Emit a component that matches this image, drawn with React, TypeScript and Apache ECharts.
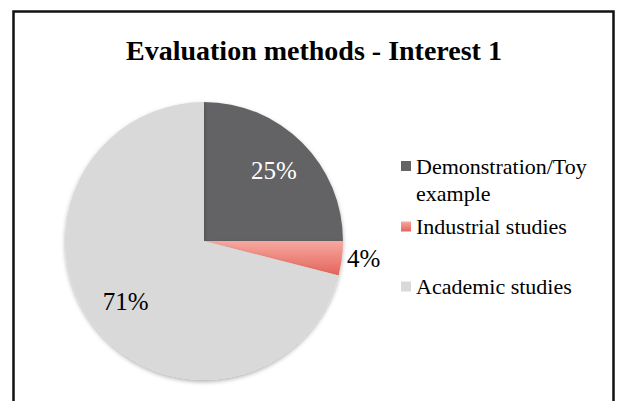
import React, { useEffect, useRef } from "react";
import * as echarts from "echarts";

const titleText = "Evaluation methods - Interest 1";
const categories = ["Demonstration/Toy example", "Industrial studies", "Academic studies"];
const legendLines = [["Demonstration/Toy", "example"], ["Industrial studies"], ["Academic studies"]];
const values = [25, 4, 71];
const labelColors = ["#ffffff", "#000000", "#000000"];

const SERIF = "Liberation Serif";

const sliceColors: any[] = [
  "#636466",
  new echarts.graphic.LinearGradient(0, 0, 0, 1, [
    { offset: 0, color: "#f6a8a0" },
    { offset: 1, color: "#e4645a" },
  ]),
  "#d9d9d9",
];

export default function App() {
  const ref = useRef<HTMLDivElement>(null);
  useEffect(() => {
    if (!ref.current) return;
    const chart = echarts.init(ref.current, null, { renderer: "svg" });
    const center = [204, 241];
    const mainData = categories.map((name, i) => ({
      name,
      value: values[i],
      itemStyle: { color: sliceColors[i] },
      label: {
        show: i === 1,
        position: "outside",
        distance: 4,
        formatter: "{d}%",
        color: "#000",
        fontSize: 25,
        fontFamily: SERIF,
      },
      labelLine: { show: false, length: 0, length2: 0 },
    }));
    const ghostData = categories.map((name, i) => ({
      name,
      value: values[i],
      itemStyle: { color: "rgba(0,0,0,0)" },
      label: {
        show: i !== 1,
        position: "inside",
        formatter: "{d}%",
        color: labelColors[i],
        fontSize: 25,
        fontFamily: SERIF,
      },
    }));
    const legendTops = [125.5, 213, 273];
    const legends = categories.map((name, i) => ({
      show: true,
      orient: "vertical",
      left: 401,
      top: legendTops[i],
      itemWidth: 10,
      itemHeight: 10,
      padding: 0,
      selectedMode: false,
      data: [{ name, icon: "rect", itemStyle: { color: sliceColors[i] } }],
      formatter: () =>
        legendLines[i].length > 1
          ? "{z| }\n" + legendLines[i].map((l) => "{a|" + l + "}").join("\n")
          : legendLines[i][0],
      textStyle: {
        fontSize: 22,
        fontFamily: SERIF,
        color: "#000",
        lineHeight: 27,
        rich: {
          a: { fontSize: 22, fontFamily: SERIF, color: "#000", lineHeight: 27 },
          z: { fontSize: 10, fontFamily: SERIF, lineHeight: 27 },
        },
      },
    }));
    chart.setOption({
      animation: false,
      textStyle: { fontFamily: SERIF },
      title: {
        text: titleText,
        left: 126,
        top: 36,
        padding: 0,
        textStyle: {
          fontSize: 28,
          fontWeight: "bold",
          fontFamily: SERIF,
          color: "#000",
          lineHeight: 28,
        },
      },
      legend: legends,
      graphic: [
        {
          type: "rect",
          shape: { x: 13.5, y: 11.5, width: 600, height: 420 },
          style: { fill: "none", stroke: "#111", lineWidth: 2.5 },
          silent: true,
        },
      ],
      series: [
        {
          type: "pie",
          center,
          radius: [0, 139],
          startAngle: 90,
          clockwise: true,
          avoidLabelOverlap: false,
          itemStyle: {
            borderWidth: 0,
            shadowBlur: 4,
            shadowOffsetY: 2,
            shadowColor: "rgba(0,0,0,0.3)",
          },
          emphasis: { disabled: true },
          data: mainData,
        },
        {
          type: "pie",
          center,
          radius: [0, 192],
          startAngle: 90,
          clockwise: true,
          silent: true,
          avoidLabelOverlap: false,
          legendHoverLink: false,
          emphasis: { disabled: true },
          labelLine: { show: false },
          data: ghostData,
          z: 3,
        },
      ],
    });
    return () => chart.dispose();
  }, []);
  return (
    <div
      ref={ref}
      style={{ position: "fixed", left: 0, top: 0, width: 617, height: 401, background: "#fff" }}
    />
  );
}
